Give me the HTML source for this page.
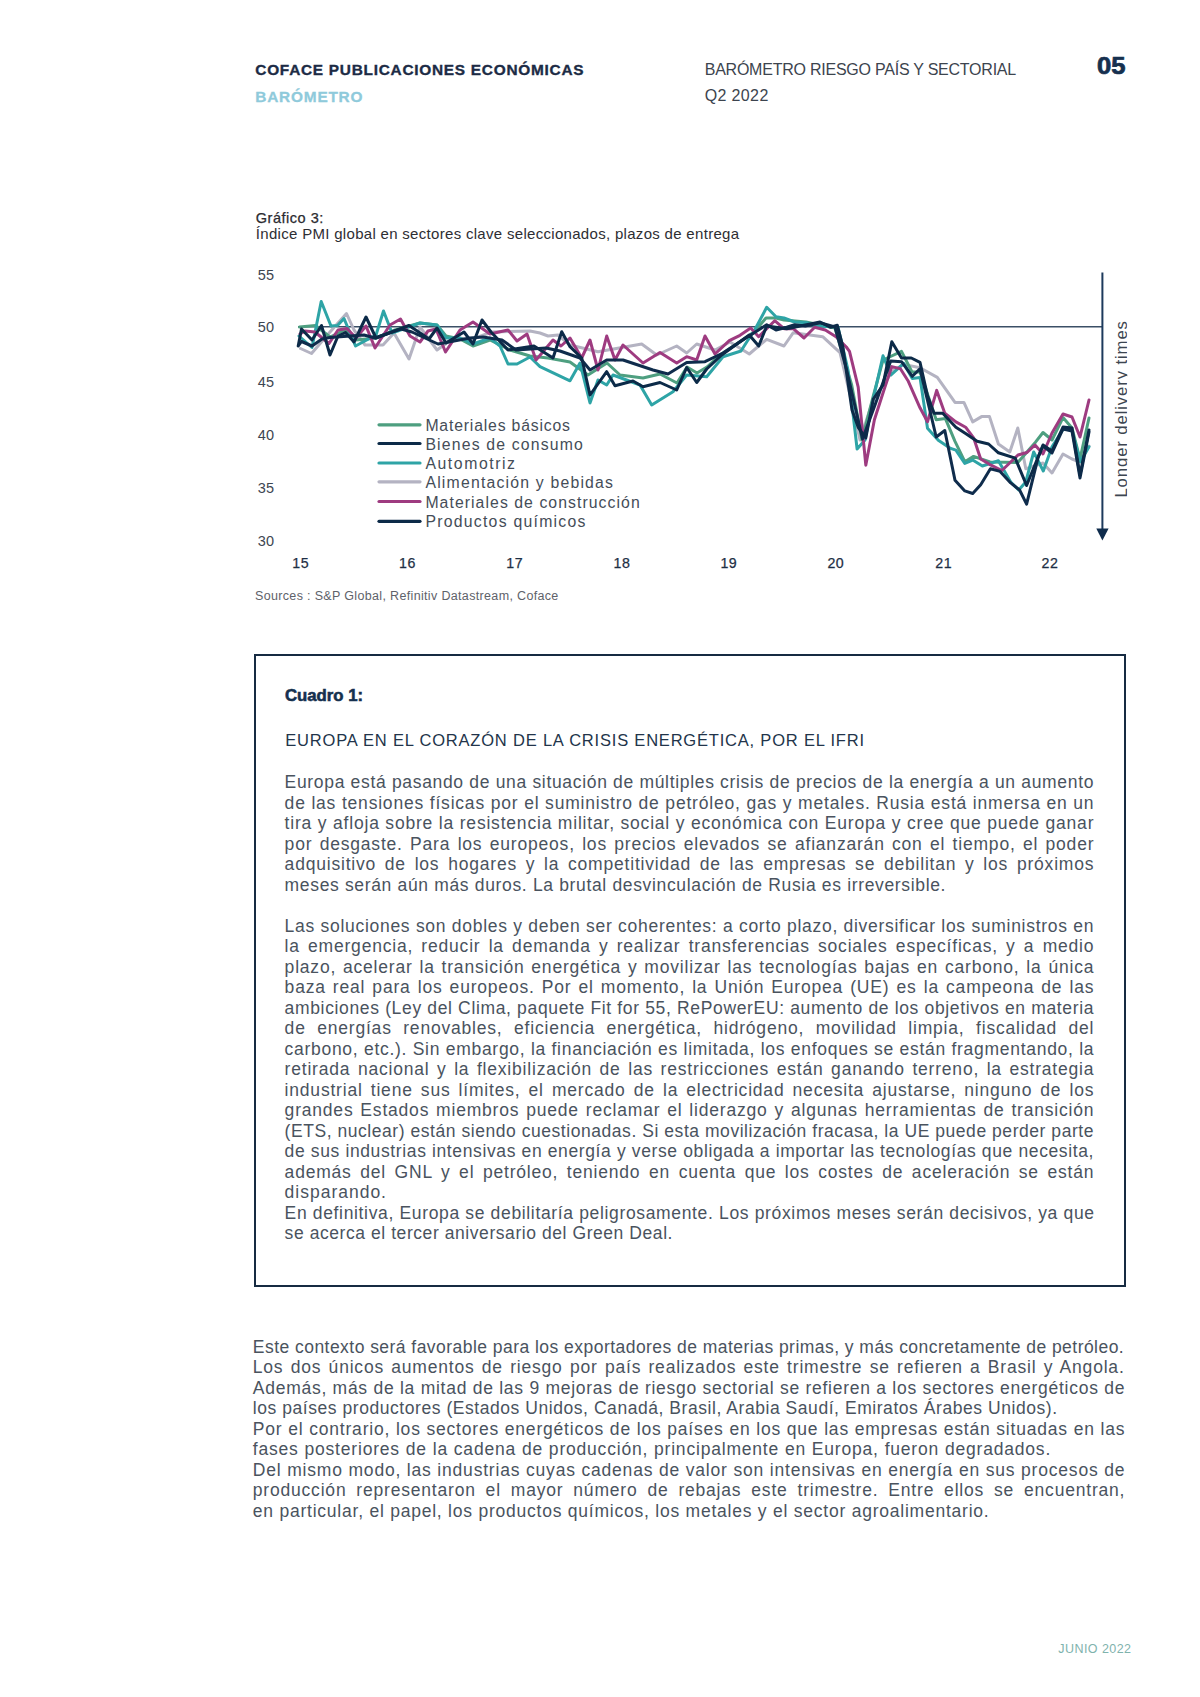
<!DOCTYPE html>
<html><head><meta charset="utf-8"><style>
html,body{margin:0;padding:0;background:#fff;}
body{width:1200px;height:1697px;position:relative;overflow:hidden;font-family:'Liberation Sans', sans-serif;}
.l{position:absolute;white-space:pre;line-height:20.5px;font-variant-ligatures:none;}
.box{position:absolute;left:253.5px;top:654.3px;width:868.8px;height:629.0px;border:2px solid #172b42;}
svg{position:absolute;left:0;top:0;}
</style></head><body>
<div class="box"></div>
<svg width="1200" height="620" viewBox="0 0 1200 620" style="position:absolute;left:0;top:0">
<text x="274" y="279.6" text-anchor="end" font-family="Liberation Sans" font-size="14.5" fill="#3d4651">55</text>
<text x="274" y="331.7" text-anchor="end" font-family="Liberation Sans" font-size="14.5" fill="#3d4651">50</text>
<text x="274" y="386.8" text-anchor="end" font-family="Liberation Sans" font-size="14.5" fill="#3d4651">45</text>
<text x="274" y="439.6" text-anchor="end" font-family="Liberation Sans" font-size="14.5" fill="#3d4651">40</text>
<text x="274" y="493.4" text-anchor="end" font-family="Liberation Sans" font-size="14.5" fill="#3d4651">35</text>
<text x="274" y="545.5" text-anchor="end" font-family="Liberation Sans" font-size="14.5" fill="#3d4651">30</text>
<text x="300.7" y="568.3" text-anchor="middle" font-family="Liberation Sans" font-size="14.2" fill="#1e2f45" stroke="#1e2f45" stroke-width="0.25" letter-spacing="0.5">15</text>
<text x="407.5" y="568.3" text-anchor="middle" font-family="Liberation Sans" font-size="14.2" fill="#1e2f45" stroke="#1e2f45" stroke-width="0.25" letter-spacing="0.5">16</text>
<text x="514.7" y="568.3" text-anchor="middle" font-family="Liberation Sans" font-size="14.2" fill="#1e2f45" stroke="#1e2f45" stroke-width="0.25" letter-spacing="0.5">17</text>
<text x="622" y="568.3" text-anchor="middle" font-family="Liberation Sans" font-size="14.2" fill="#1e2f45" stroke="#1e2f45" stroke-width="0.25" letter-spacing="0.5">18</text>
<text x="728.8" y="568.3" text-anchor="middle" font-family="Liberation Sans" font-size="14.2" fill="#1e2f45" stroke="#1e2f45" stroke-width="0.25" letter-spacing="0.5">19</text>
<text x="835.8" y="568.3" text-anchor="middle" font-family="Liberation Sans" font-size="14.2" fill="#1e2f45" stroke="#1e2f45" stroke-width="0.25" letter-spacing="0.5">20</text>
<text x="943.7" y="568.3" text-anchor="middle" font-family="Liberation Sans" font-size="14.2" fill="#1e2f45" stroke="#1e2f45" stroke-width="0.25" letter-spacing="0.5">21</text>
<text x="1050" y="568.3" text-anchor="middle" font-family="Liberation Sans" font-size="14.2" fill="#1e2f45" stroke="#1e2f45" stroke-width="0.25" letter-spacing="0.5">22</text>
<line x1="298" y1="326.7" x2="1102" y2="326.7" stroke="#3b4f66" stroke-width="1.4"/>
<line x1="1102.4" y1="272.5" x2="1102.4" y2="530" stroke="#1d3a5c" stroke-width="2"/>
<path d="M1096.3,528.5 L1108.6,528.5 L1102.4,540.5 Z" fill="#0f2c4c"/>
<defs><clipPath id="cl"><rect x="1100" y="300" width="27.3" height="220"/></clipPath></defs>
<g clip-path="url(#cl)"><text transform="translate(1126.5,497.6) rotate(-90)" font-family="Liberation Sans" font-size="16.8" fill="#3d4651" textLength="176.6" lengthAdjust="spacing">Longer delivery times</text></g>
<path d="M300.5,348.5 L311.5,353.5 L330.0,332.0 L346.5,313.5 L354.0,330.0 L365.0,345.0 L383.0,345.0 L394.0,333.0 L409.0,359.0 L420.0,327.0 L437.0,350.0 L455.0,337.0 L470.0,340.0 L492.0,332.0 L530.0,331.0 L540.0,333.0 L548.0,336.0 L558.0,335.0 L570.0,345.0 L598.0,351.7 L641.7,344.0 L656.7,355.0 L676.7,346.0 L686.7,353.0 L696.7,344.0 L715.0,350.0 L730.0,342.0 L749.3,354.0 L766.7,339.3 L784.0,346.0 L793.3,332.7 L822.7,336.7 L840.0,352.7 L850.0,395.0 L860.0,440.0 L873.0,400.0 L892.8,371.0 L903.7,364.4 L920.0,367.7 L937.3,377.4 L955.0,402.4 L963.9,402.4 L972.7,421.9 L981.6,416.6 L989.5,416.6 L998.4,444.0 L1009.8,452.0 L1017.8,428.0 L1025.8,468.8 L1034.0,466.0 L1043.0,463.0 L1052.0,473.0 L1063.0,454.0 L1072.0,459.0 L1080.0,462.0 L1089.0,446.0" fill="none" stroke="#b4b3c2" stroke-width="3" stroke-linejoin="round" stroke-linecap="round"/>
<path d="M299.5,327.0 L315.5,325.5 L330.0,337.0 L345.0,330.0 L356.0,340.0 L376.0,338.0 L395.0,330.0 L420.0,323.0 L437.0,325.0 L446.0,336.0 L460.0,339.0 L473.0,346.0 L490.0,340.0 L510.0,350.0 L530.0,356.0 L548.0,358.0 L570.0,362.0 L588.0,375.0 L607.0,363.0 L620.0,375.0 L643.0,378.0 L660.0,374.0 L677.0,383.0 L687.0,367.0 L697.0,373.0 L707.0,367.0 L720.0,355.0 L740.0,341.7 L754.0,332.0 L766.0,318.0 L776.0,318.0 L784.0,320.0 L806.0,322.0 L835.0,328.0 L851.7,385.0 L862.0,440.0 L873.3,395.8 L883.0,360.0 L901.5,351.4 L912.0,372.0 L920.0,372.0 L936.2,419.7 L945.3,418.4 L955.0,441.3 L964.8,461.7 L973.6,456.4 L990.0,462.0 L1017.8,462.6 L1035.5,442.2 L1043.0,432.5 L1052.0,440.0 L1063.0,417.5 L1072.0,428.0 L1080.0,459.0 L1089.0,418.0" fill="none" stroke="#4e9f80" stroke-width="3" stroke-linejoin="round" stroke-linecap="round"/>
<path d="M299.0,336.0 L312.0,347.5 L321.2,301.5 L331.0,326.0 L337.5,325.5 L344.0,318.5 L355.5,346.0 L376.0,335.0 L383.5,311.0 L392.0,333.0 L420.0,323.0 L437.0,325.0 L446.0,338.0 L460.0,338.0 L473.0,344.0 L490.0,338.0 L500.0,346.0 L508.0,364.0 L517.0,364.0 L530.0,357.0 L540.0,366.7 L570.0,380.8 L580.0,363.0 L590.0,403.0 L598.0,380.0 L606.7,385.0 L613.0,375.0 L640.0,385.0 L651.7,405.0 L673.0,391.7 L686.7,375.0 L706.7,376.7 L723.0,356.7 L741.0,351.0 L746.7,342.0 L754.7,330.0 L766.7,307.3 L776.0,316.7 L784.0,318.0 L794.7,322.0 L806.7,322.7 L816.0,326.0 L838.0,327.0 L848.0,370.0 L857.1,449.0 L865.0,440.0 L873.0,400.0 L883.0,355.8 L891.0,375.0 L903.7,363.3 L912.3,378.5 L920.0,377.4 L927.5,428.3 L938.3,440.3 L950.6,448.4 L955.9,450.2 L964.8,463.4 L972.7,460.0 L982.4,466.0 L998.4,460.8 L1010.7,482.0 L1018.7,490.0 L1025.8,482.0 L1033.7,452.0 L1043.3,471.0 L1052.0,446.7 L1063.3,429.0 L1071.7,430.0 L1080.4,461.7 L1089.0,446.7" fill="none" stroke="#2ea4a6" stroke-width="3" stroke-linejoin="round" stroke-linecap="round"/>
<path d="M300.0,334.0 L305.0,331.0 L315.0,332.0 L329.0,343.5 L338.0,330.0 L347.0,328.5 L356.0,338.0 L366.0,326.0 L375.0,348.0 L390.0,325.0 L400.5,319.0 L410.0,336.0 L420.0,342.0 L428.0,331.0 L436.0,329.0 L445.5,352.0 L460.0,330.0 L473.0,322.0 L490.0,334.0 L508.0,330.0 L517.0,341.0 L527.0,334.0 L536.0,360.0 L553.0,340.0 L561.0,346.0 L570.0,338.0 L581.7,358.0 L590.0,340.0 L598.0,370.0 L606.7,336.0 L615.0,360.0 L623.0,345.0 L643.0,363.0 L660.0,352.5 L676.7,363.0 L686.7,356.7 L696.7,360.0 L705.0,336.0 L715.0,354.0 L729.3,340.7 L740.0,335.3 L750.7,328.0 L758.7,336.7 L774.7,320.7 L784.0,328.7 L793.3,328.7 L804.0,338.0 L814.7,327.3 L825.3,330.0 L836.0,336.7 L846.3,347.0 L849.5,351.4 L858.2,387.2 L865.8,465.2 L874.4,419.7 L884.2,389.3 L891.8,366.6 L900.4,368.8 L908.0,380.7 L920.0,407.8 L927.5,421.8 L936.7,390.4 L944.8,413.2 L955.9,421.9 L965.6,427.2 L973.6,437.8 L980.7,459.0 L989.5,464.3 L1001.9,470.5 L1018.0,455.0 L1027.0,452.5 L1035.0,445.0 L1043.0,454.0 L1052.0,433.0 L1063.0,414.0 L1072.0,417.0 L1080.0,437.0 L1089.0,400.0" fill="none" stroke="#9e3b80" stroke-width="3" stroke-linejoin="round" stroke-linecap="round"/>
<path d="M299.0,345.0 L301.5,341.5 L312.0,346.0 L322.0,339.0 L330.0,337.5 L364.0,335.0 L375.0,338.0 L392.0,332.0 L401.0,329.0 L412.0,332.0 L438.0,344.0 L470.0,338.0 L483.0,337.0 L502.0,340.0 L516.0,350.0 L546.0,348.0 L560.0,351.0 L580.0,358.0 L590.0,370.0 L606.7,360.0 L623.0,360.0 L653.0,370.0 L668.0,374.0 L686.7,362.5 L705.0,361.7 L723.0,353.0 L740.0,341.7 L766.7,324.7 L776.0,330.0 L786.7,327.3 L794.7,324.7 L805.3,326.0 L820.0,322.7 L835.0,327.0 L846.7,370.0 L862.5,439.0 L875.0,405.0 L890.7,361.0 L901.5,361.7 L912.3,376.3 L920.0,368.8 L936.2,437.0 L944.8,430.5 L955.0,480.2 L964.8,490.9 L972.7,493.5 L980.7,484.7 L990.4,468.8 L1000.1,471.4 L1010.7,482.9 L1019.6,490.0 L1026.6,504.1 L1038.1,457.3 L1043.0,446.0 L1052.0,453.0 L1063.0,429.0 L1072.0,431.0 L1080.0,478.0 L1089.0,432.0" fill="none" stroke="#0f2c4c" stroke-width="3" stroke-linejoin="round" stroke-linecap="round"/>
<path d="M298.2,346.0 L301.5,329.0 L312.0,340.0 L321.5,325.5 L330.0,355.0 L338.0,336.0 L345.5,332.5 L354.0,342.0 L366.0,317.0 L376.0,338.0 L392.0,332.0 L409.0,325.5 L429.0,339.0 L437.0,328.0 L446.0,343.0 L464.0,332.0 L473.0,344.0 L482.0,320.0 L491.0,332.0 L508.0,350.0 L534.0,346.0 L553.0,358.0 L561.7,331.7 L570.0,346.7 L581.7,358.0 L590.0,395.0 L606.7,371.7 L615.0,385.8 L633.0,381.0 L643.0,386.7 L660.0,382.5 L676.7,390.0 L686.7,367.5 L696.7,382.5 L706.7,369.0 L721.7,355.0 L740.0,341.7 L749.3,335.0 L758.7,346.0 L766.7,326.0 L786.7,328.7 L820.0,322.0 L830.7,327.3 L837.3,325.3 L842.7,346.0 L852.0,410.0 L858.2,427.3 L865.8,438.0 L873.3,399.0 L883.0,385.0 L891.8,341.7 L901.5,358.0 L911.3,358.0 L920.0,362.3 L927.5,395.8 L934.0,413.2 L942.7,413.2 L955.9,427.2 L965.6,433.4 L977.1,441.3 L988.6,444.0 L998.4,452.8 L1015.2,458.1 L1026.6,485.5 L1043.0,445.0 L1052.0,451.0 L1063.0,427.0 L1072.0,428.0 L1080.0,475.0 L1089.0,430.0" fill="none" stroke="#0c2a48" stroke-width="3" stroke-linejoin="round" stroke-linecap="round"/>
<line x1="379" y1="424.8" x2="420" y2="424.8" stroke="#4e9f80" stroke-width="3.2" stroke-linecap="round"/>
<text x="425.4" y="430.9" font-family="Liberation Sans" font-size="15.8" fill="#454d58" textLength="144.6" lengthAdjust="spacing">Materiales básicos</text>
<line x1="379" y1="443.5" x2="420" y2="443.5" stroke="#0c2a48" stroke-width="3.2" stroke-linecap="round"/>
<text x="425.4" y="449.6" font-family="Liberation Sans" font-size="15.8" fill="#454d58" textLength="157.5" lengthAdjust="spacing">Bienes de consumo</text>
<line x1="379" y1="463" x2="420" y2="463" stroke="#2ea4a6" stroke-width="3.2" stroke-linecap="round"/>
<text x="425.4" y="469.1" font-family="Liberation Sans" font-size="15.8" fill="#454d58" textLength="89.6" lengthAdjust="spacing">Automotriz</text>
<line x1="379" y1="481.8" x2="420" y2="481.8" stroke="#b4b3c2" stroke-width="3.2" stroke-linecap="round"/>
<text x="425.4" y="487.9" font-family="Liberation Sans" font-size="15.8" fill="#454d58" textLength="187.6" lengthAdjust="spacing">Alimentación y bebidas</text>
<line x1="379" y1="501.5" x2="420" y2="501.5" stroke="#9e3b80" stroke-width="3.2" stroke-linecap="round"/>
<text x="425.4" y="507.6" font-family="Liberation Sans" font-size="15.8" fill="#454d58" textLength="214.3" lengthAdjust="spacing">Materiales de construcción</text>
<line x1="379" y1="521.3" x2="420" y2="521.3" stroke="#0c2a48" stroke-width="3.2" stroke-linecap="round"/>
<text x="425.4" y="527.4" font-family="Liberation Sans" font-size="15.8" fill="#454d58" textLength="160.0" lengthAdjust="spacing">Productos químicos</text>
</svg>
<div class="l" style="left:284.6px;top:772.29px;font-size:17.5px;font-weight:normal;color:#4a535e;letter-spacing:0.674px;word-spacing:0.000px;">Europa está pasando de una situación de múltiples crisis de precios de la energía a un aumento</div>
<div class="l" style="left:284.6px;top:792.79px;font-size:17.5px;font-weight:normal;color:#4a535e;letter-spacing:0.800px;word-spacing:0.077px;">de las tensiones físicas por el suministro de petróleo, gas y metales. Rusia está inmersa en un</div>
<div class="l" style="left:284.6px;top:813.29px;font-size:17.5px;font-weight:normal;color:#4a535e;letter-spacing:0.800px;word-spacing:0.026px;">tira y afloja sobre la resistencia militar, social y económica con Europa y cree que puede ganar</div>
<div class="l" style="left:284.6px;top:833.79px;font-size:17.5px;font-weight:normal;color:#4a535e;letter-spacing:0.800px;word-spacing:1.702px;">por desgaste. Para los europeos, los precios elevados se afianzarán con el tiempo, el poder</div>
<div class="l" style="left:284.6px;top:854.29px;font-size:17.5px;font-weight:normal;color:#4a535e;letter-spacing:0.800px;word-spacing:3.083px;">adquisitivo de los hogares y la competitividad de las empresas se debilitan y los próximos</div>
<div class="l" style="left:284.6px;top:874.79px;font-size:17.5px;font-weight:normal;color:#4a535e;letter-spacing:0.658px;word-spacing:0.000px;">meses serán aún más duros. La brutal desvinculación de Rusia es irreversible.</div>
<div class="l" style="left:284.6px;top:915.79px;font-size:17.5px;font-weight:normal;color:#4a535e;letter-spacing:0.712px;word-spacing:0.000px;">Las soluciones son dobles y deben ser coherentes: a corto plazo, diversificar los suministros en</div>
<div class="l" style="left:284.6px;top:936.29px;font-size:17.5px;font-weight:normal;color:#4a535e;letter-spacing:0.800px;word-spacing:2.561px;">la emergencia, reducir la demanda y realizar transferencias sociales específicas, y a medio</div>
<div class="l" style="left:284.6px;top:956.79px;font-size:17.5px;font-weight:normal;color:#4a535e;letter-spacing:0.800px;word-spacing:1.215px;">plazo, acelerar la transición energética y movilizar las tecnologías bajas en carbono, la única</div>
<div class="l" style="left:284.6px;top:977.29px;font-size:17.5px;font-weight:normal;color:#4a535e;letter-spacing:0.800px;word-spacing:1.458px;">baza real para los europeos. Por el momento, la Unión Europea (UE) es la campeona de las</div>
<div class="l" style="left:284.6px;top:997.79px;font-size:17.5px;font-weight:normal;color:#4a535e;letter-spacing:0.651px;word-spacing:0.000px;">ambiciones (Ley del Clima, paquete Fit for 55, RePowerEU: aumento de los objetivos en materia</div>
<div class="l" style="left:284.6px;top:1018.29px;font-size:17.5px;font-weight:normal;color:#4a535e;letter-spacing:0.800px;word-spacing:5.871px;">de energías renovables, eficiencia energética, hidrógeno, movilidad limpia, fiscalidad del</div>
<div class="l" style="left:284.6px;top:1038.79px;font-size:17.5px;font-weight:normal;color:#4a535e;letter-spacing:0.712px;word-spacing:0.000px;">carbono, etc.). Sin embargo, la financiación es limitada, los enfoques se están fragmentando, la</div>
<div class="l" style="left:284.6px;top:1059.29px;font-size:17.5px;font-weight:normal;color:#4a535e;letter-spacing:0.800px;word-spacing:1.897px;">retirada nacional y la flexibilización de las restricciones están ganando terreno, la estrategia</div>
<div class="l" style="left:284.6px;top:1079.79px;font-size:17.5px;font-weight:normal;color:#4a535e;letter-spacing:0.800px;word-spacing:2.475px;">industrial tiene sus límites, el mercado de la electricidad necesita ajustarse, ninguno de los</div>
<div class="l" style="left:284.6px;top:1100.29px;font-size:17.5px;font-weight:normal;color:#4a535e;letter-spacing:0.800px;word-spacing:1.256px;">grandes Estados miembros puede reclamar el liderazgo y algunas herramientas de transición</div>
<div class="l" style="left:284.6px;top:1120.79px;font-size:17.5px;font-weight:normal;color:#4a535e;letter-spacing:0.548px;word-spacing:0.000px;">(ETS, nuclear) están siendo cuestionadas. Si esta movilización fracasa, la UE puede perder parte</div>
<div class="l" style="left:284.6px;top:1141.29px;font-size:17.5px;font-weight:normal;color:#4a535e;letter-spacing:0.623px;word-spacing:0.000px;">de sus industrias intensivas en energía y verse obligada a importar las tecnologías que necesita,</div>
<div class="l" style="left:284.6px;top:1161.79px;font-size:17.5px;font-weight:normal;color:#4a535e;letter-spacing:0.800px;word-spacing:2.945px;">además del GNL y el petróleo, teniendo en cuenta que los costes de aceleración se están</div>
<div class="l" style="left:284.6px;top:1182.29px;font-size:17.5px;font-weight:normal;color:#4a535e;letter-spacing:0.993px;word-spacing:0.000px;">disparando.</div>
<div class="l" style="left:284.6px;top:1202.79px;font-size:17.5px;font-weight:normal;color:#4a535e;letter-spacing:0.653px;word-spacing:0.000px;">En definitiva, Europa se debilitaría peligrosamente. Los próximos meses serán decisivos, ya que</div>
<div class="l" style="left:284.6px;top:1223.29px;font-size:17.5px;font-weight:normal;color:#4a535e;letter-spacing:0.566px;word-spacing:0.000px;">se acerca el tercer aniversario del Green Deal.</div>
<div class="l" style="left:252.8px;top:1336.99px;font-size:17.5px;font-weight:normal;color:#4a535e;letter-spacing:0.461px;word-spacing:0.000px;">Este contexto será favorable para los exportadores de materias primas, y más concretamente de petróleo.</div>
<div class="l" style="left:252.8px;top:1357.49px;font-size:17.5px;font-weight:normal;color:#4a535e;letter-spacing:0.800px;word-spacing:1.627px;">Los dos únicos aumentos de riesgo por país realizados este trimestre se refieren a Brasil y Angola.</div>
<div class="l" style="left:252.8px;top:1377.99px;font-size:17.5px;font-weight:normal;color:#4a535e;letter-spacing:0.733px;word-spacing:0.000px;">Además, más de la mitad de las 9 mejoras de riesgo sectorial se refieren a los sectores energéticos de</div>
<div class="l" style="left:252.8px;top:1398.49px;font-size:17.5px;font-weight:normal;color:#4a535e;letter-spacing:0.552px;word-spacing:0.000px;">los países productores (Estados Unidos, Canadá, Brasil, Arabia Saudí, Emiratos Árabes Unidos).</div>
<div class="l" style="left:252.8px;top:1418.99px;font-size:17.5px;font-weight:normal;color:#4a535e;letter-spacing:0.800px;word-spacing:0.117px;">Por el contrario, los sectores energéticos de los países en los que las empresas están situadas en las</div>
<div class="l" style="left:252.8px;top:1439.49px;font-size:17.5px;font-weight:normal;color:#4a535e;letter-spacing:0.800px;word-spacing:0.222px;">fases posteriores de la cadena de producción, principalmente en Europa, fueron degradados.</div>
<div class="l" style="left:252.8px;top:1459.99px;font-size:17.5px;font-weight:normal;color:#4a535e;letter-spacing:0.800px;word-spacing:0.082px;">Del mismo modo, las industrias cuyas cadenas de valor son intensivas en energía en sus procesos de</div>
<div class="l" style="left:252.8px;top:1480.49px;font-size:17.5px;font-weight:normal;color:#4a535e;letter-spacing:0.800px;word-spacing:4.267px;">producción representaron el mayor número de rebajas este trimestre. Entre ellos se encuentran,</div>
<div class="l" style="left:252.8px;top:1500.99px;font-size:17.5px;font-weight:normal;color:#4a535e;letter-spacing:0.769px;word-spacing:0.000px;">en particular, el papel, los productos químicos, los metales y el sector agroalimentario.</div>
<div class="l" style="left:255.3px;top:59.71px;font-size:15.4px;font-weight:bold;color:#1c2b45;letter-spacing:0.736px;word-spacing:0.000px;-webkit-text-stroke:0.35px #1c2b45;">COFACE PUBLICACIONES ECONÓMICAS</div>
<div class="l" style="left:255.3px;top:86.71px;font-size:15.4px;font-weight:bold;color:#8fcadb;letter-spacing:0.789px;word-spacing:0.000px;-webkit-text-stroke:0.3px #8fcadb;">BARÓMETRO</div>
<div class="l" style="left:704.7px;top:59.51px;font-size:16px;font-weight:normal;color:#3c444e;letter-spacing:-0.231px;word-spacing:0.000px;">BARÓMETRO RIESGO PAÍS Y SECTORIAL</div>
<div class="l" style="left:704.7px;top:86.21px;font-size:16px;font-weight:normal;color:#3c444e;letter-spacing:0.368px;word-spacing:0.000px;">Q2 2022</div>
<div class="l" style="left:1097.3px;top:55.91px;font-size:23.5px;font-weight:bold;color:#16304f;letter-spacing:0.000px;word-spacing:0.000px;transform:scaleX(1.0903);transform-origin:0 0;-webkit-text-stroke:0.7px #16304f;">05</div>
<div class="l" style="left:255.8px;top:207.73px;font-size:14.5px;font-weight:normal;color:#2b2b30;letter-spacing:0.516px;word-spacing:0.000px;-webkit-text-stroke:0.25px #2b2b30;">Gráfico 3:</div>
<div class="l" style="left:255.8px;top:223.85px;font-size:15px;font-weight:normal;color:#2e2e33;letter-spacing:0.306px;word-spacing:0.000px;">Índice PMI global en sectores clave seleccionados, plazos de entrega</div>
<div class="l" style="left:255.0px;top:586.42px;font-size:12.5px;font-weight:normal;color:#5e626a;letter-spacing:0.339px;word-spacing:0.000px;">Sources : S&amp;P Global, Refinitiv Datastream, Coface</div>
<div class="l" style="left:285.0px;top:685.44px;font-size:16.2px;font-weight:bold;color:#15304f;letter-spacing:0.000px;word-spacing:0.000px;transform:scaleX(1.0336);transform-origin:0 0;-webkit-text-stroke:0.55px #15304f;">Cuadro 1:</div>
<div class="l" style="left:285.3px;top:729.83px;font-size:16.5px;font-weight:normal;color:#22344a;letter-spacing:0.800px;word-spacing:0.000px;">EUROPA EN EL CORAZÓN DE LA CRISIS ENERGÉTICA, POR EL IFRI</div>
<div class="l" style="left:1058.3px;top:1638.92px;font-size:12.5px;font-weight:normal;color:#7fb3ad;letter-spacing:0.435px;word-spacing:0.000px;">JUNIO 2022</div>
</body></html>
